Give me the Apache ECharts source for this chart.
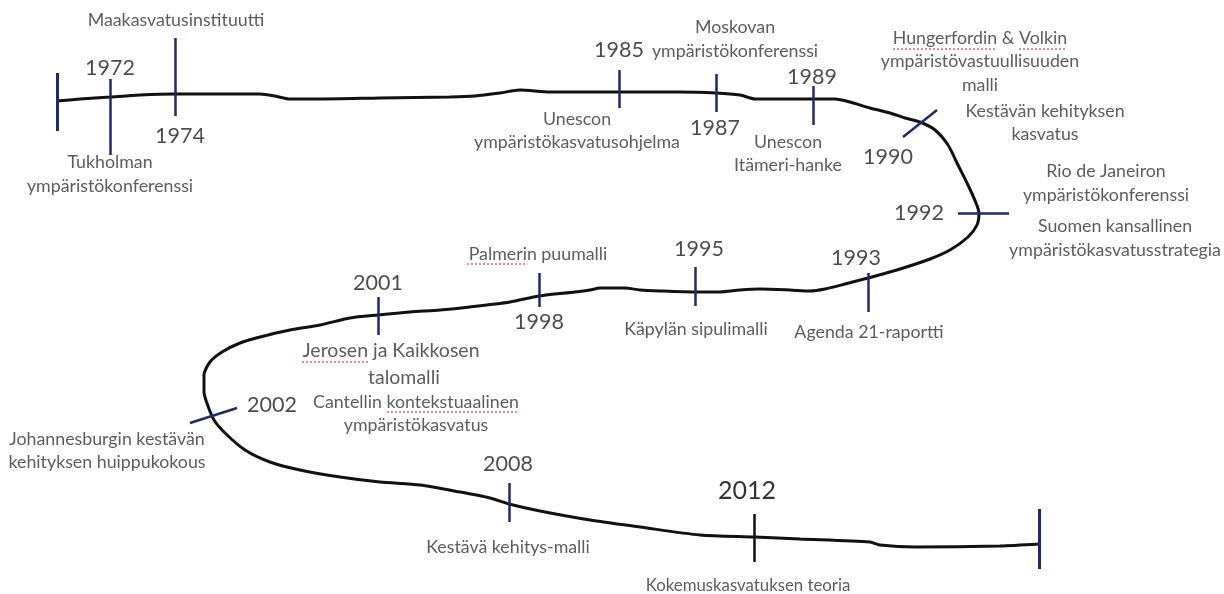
<!DOCTYPE html>
<html>
<head>
<meta charset="utf-8">
<script src="https://cdn.jsdelivr.net/npm/echarts@6/dist/echarts.min.js"></script>
<style>
html,body{margin:0;padding:0;background:#fff;}
#c{width:1224px;height:594px;}
</style>
</head>
<body>
<div id="c"></div>
<script>
// ---- Timeline path (hand-drawn curve) ----
const curveX = [57,80,110,140,175,220,260,275,290,320,380,450,475,500,520,550,619,680,716,740,755,790,813,835,850,870,890,905,920,935,948,958,968,976,979,977,968,950,930,900,868,845,825,810,790,760,740,720,695,660,640,625,600,590,575,539,510,470,440,410,378,350,320,290,260,240,222,210,204,204,208,214,225,245,270,300,340,380,420,460,490,509,540,590,640,700,755,800,870,880,915,1000,1039];
const curveY = [101,99,97,95,94,94,94,96,99,99,98,97,96,93,90,92,92,92,93,95,99,99,99,99,102,108,113,118,122,130,145,165,185,203,213,225,237,250,259,269,278,284,289,291,290,289,290,292,292,291,290,288,288,290,292,296,302,307,310,312,315,318,325,330,337,343,352,362,375,392,406,420,433,450,462,470,477,482,485,492,498,504,511,520,527,535,537,539,542,545,547,546,544];

// ---- Tick marks on the timeline ----
const tickNames = ['start','1972','1974','1985','1987','1989','1990','1992','1993','1995','1998','2001','2002','2008','2012','end'];
const tickX1 = [57,110,175,619,716,813,903,958,868,695,539,378,190,509,754,1039];
const tickY1 = [73,79,38,70,74,86,137,213,273,267,273,297,423,483,514,509];
const tickX2 = [57,110,175,619,716,813,937,1009,868,695,539,378,237,509,754,1039];
const tickY2 = [131,155,116,108,112,125,110,213,312,306,307,335,408,522,562,569];

// ---- Year labels ----
const years = ['1972','1974','1985','1987','1989','1990','1992','1993','1995','1998','2001','2002','2008','2012'];
const yearX = [110,180,619,715,812,888,919,856,699,539,378,272,508,747];
const yearY = [68,136,50,128,77,157,213,258,249,322,283,405,464,491];

// ---- Event texts ----
const notes = [
  'Maakasvatusinstituutti',
  'Tukholman\nympäristökonferenssi',
  'Unescon\nympäristökasvatusohjelma',
  'Moskovan\nympäristökonferenssi',
  'Unescon\nItämeri-hanke',
  'Hungerfordin & Volkin\nympäristövastuullisuuden\nmalli',
  'Kestävän kehityksen\nkasvatus',
  'Rio de Janeiron\nympäristökonferenssi',
  'Suomen kansallinen\nympäristökasvatusstrategia',
  'Agenda 21-raportti',
  'Käpylän sipulimalli',
  'Palmerin puumalli',
  'Jerosen ja Kaikkosen',
  'talomalli',
  'Cantellin kontekstuaalinen\nympäristökasvatus',
  'Johannesburgin kestävän\nkehityksen huippukokous',
  'Kestävä kehitys-malli',
  'Kokemuskasvatuksen teoria'
];
const noteX = [176,110,577,735,788,980,1045,1106,1115,869,696,538,391,404,416,107,508,748];
const noteY = [20,174.5,131,39.5,154,61.5,123,183.5,238.5,332,329,254,351,378,414,451,547,586];

// ---- Words marked with the red spell-check underline ----
const underlinedWords = ['Hungerfordin','Volkin','Palmerin','Jerosen','kontekstuaalinen'];
const underlineX1 = [893,1019,467,302,387];
const underlineX2 = [997,1065,525,370,518];
const underlineY = [49,49,264,362,412];

// styles (kept apart from the data)
const NAVY = '#1f2a6b';
const FONT = 'Lato, "Open Sans", sans-serif';
const noteSize = {'Jerosen ja Kaikkosen': 19.5, 'talomalli': 19.5, 'Kokemuskasvatuksen teoria': 16.8};

const chart = echarts.init(document.getElementById('c'));
chart.setOption({
  backgroundColor: '#ffffff',
  animation: false,
  grid: {left: 0, right: 0, top: 0, bottom: 0},
  xAxis: {type: 'value', min: 0, max: 1224, show: false},
  yAxis: {type: 'value', min: 0, max: 594, inverse: true, show: false},
  series: [
    {
      type: 'line',
      data: curveX.map((x, i) => [x, curveY[i]]),
      smooth: 0.25,
      showSymbol: false,
      lineStyle: {color: '#111', width: 3},
      z: 2
    },
    {
      type: 'lines',
      coordinateSystem: 'cartesian2d',
      data: tickNames.map((n, i) => ({
        name: n,
        coords: [[tickX1[i], tickY1[i]], [tickX2[i], tickY2[i]]],
        lineStyle: {color: n === '2012' ? '#111' : NAVY, width: n === 'start' || n === 'end' ? 3 : 2.5}
      })),
      lineStyle: {opacity: 1},
      z: 3
    },
    {
      type: 'lines',
      coordinateSystem: 'cartesian2d',
      data: underlinedWords.map((w, i) => ({
        name: w,
        coords: [[underlineX1[i], underlineY[i]], [underlineX2[i], underlineY[i]]]
      })),
      lineStyle: {color: '#e25555', width: 1.6, type: [2, 2], opacity: 0.85},
      z: 3
    },
    {
      type: 'scatter',
      symbolSize: 0,
      data: years.map((y, i) => ({
        name: y, value: [yearX[i], yearY[i]],
        label: y === '2012' ? {fontSize: 25, color: '#000'} : undefined
      })),
      label: {
        show: true,
        position: 'inside',
        formatter: p => p.name,
        fontFamily: FONT,
        fontSize: 21.5,
        color: '#1e1e1e',
        align: 'center',
        verticalAlign: 'middle'
      },
      z: 4
    },
    {
      type: 'scatter',
      symbolSize: 0,
      data: notes.map((t, i) => ({
        name: t, value: [noteX[i], noteY[i]],
        label: noteSize[t] ? {fontSize: noteSize[t]} : undefined
      })),
      label: {
        show: true,
        position: 'inside',
        formatter: p => p.name,
        fontFamily: FONT,
        fontSize: 17.8,
        lineHeight: 23.5,
        color: '#333333',
        align: 'center',
        verticalAlign: 'middle'
      },
      z: 4
    }
  ]
});
</script>
</body>
</html>
